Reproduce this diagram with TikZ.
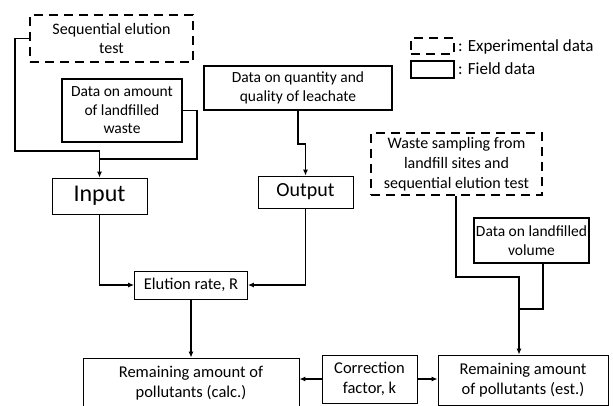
\documentclass[tikz,border=0pt]{standalone}
\usepackage{fontspec}
\setmainfont{Carlito}
\usetikzlibrary{arrows.meta}
\begin{document}
\begin{tikzpicture}[x=1pt,y=-1pt,
  every node/.style={inner sep=0pt,align=center},
  expbox/.style={draw,line width=1.9pt,dash pattern=on 9pt off 6pt,
    font=\fontsize{16pt}{20pt}\selectfont},
  fieldbox/.style={draw,line width=1.9pt,font=\fontsize{15.5pt}{18.5pt}\selectfont},
  procbox/.style={draw,line width=0.8pt,font=\fontsize{16.5pt}{20pt}\selectfont},
  link/.style={line width=1.7pt},
  flow/.style={line width=1.7pt,-{Latex[length=6pt,width=5pt]}},
  legtext/.style={anchor=west,font=\fontsize{17pt}{20pt}\selectfont}]
\clip (0,0) rectangle (613,405);
\useasboundingbox (0,0) rectangle (613,405);

% data sources
\node[expbox,minimum width=163pt,minimum height=47pt] (seq) at (111.5,38.5)
  {Sequential elution\\test};
\node[fieldbox,minimum width=120pt,minimum height=63pt] (amount) at (122,110.5)
  {Data on amount\\of landfilled\\waste};
\node[fieldbox,minimum width=188pt,minimum height=44pt] (leach) at (298,88)
  {Data on quantity and\\quality of leachate};
\node[expbox,minimum width=171pt,minimum height=62pt] (waste) at (456.5,164)
  {Waste sampling from\\landfill sites and\\sequential elution test};
\node[fieldbox,minimum width=115pt,minimum height=45pt] (vol) at (531.5,240.5)
  {Data on landfilled\\volume};

% legend
\node[expbox,minimum width=43pt,minimum height=16pt] (legexp) at (432.5,46) {};
\node[fieldbox,minimum width=43pt,minimum height=17pt] (legfield) at (432.5,69.5) {};
\node[legtext] (legexptext) at (458,47) {: Experimental data};
\node[legtext] (legfieldtext) at (458,69) {: Field data};

% processing steps
\node[procbox,minimum width=95pt,minimum height=36pt,font=\fontsize{24pt}{28pt}\selectfont]
  (input) at (99.5,196) {Input};
\node[procbox,minimum width=95pt,minimum height=32pt,font=\fontsize{20pt}{24pt}\selectfont]
  (output) at (305.5,192) {Output};
\node[procbox,minimum width=113pt,minimum height=28pt] (elution) at (191,285)
  {Elution rate, R};
\node[procbox,minimum width=216pt,minimum height=50pt] (calc) at (191,383)
  {Remaining amount of\\pollutants (calc.)};
\node[procbox,minimum width=95pt,minimum height=48pt] (corr) at (369.5,379)
  {Correction\\factor, k};
\node[procbox,minimum width=170pt,minimum height=50pt] (est) at (523,380)
  {Remaining amount\\of pollutants (est.)};

% junction points
\coordinate (seqturn) at (15,151);
\coordinate (injoin) at (99.5,151);
\coordinate (amtturn) at (197,159);
\coordinate (wasteturn) at (519,277);
\coordinate (volout) at (543,262.5);
\coordinate (voljoin) at (519,309);

% connectors
\draw[flow] (seq.west) -| (seqturn) -- (injoin) -- (input.north);
\draw[link] (amount.east) -| (amtturn) -- (input.north |- amtturn);
\draw[flow] (leach.south) -- ++(0,33) -| (output.north);
\draw[flow] (input.south) |- (elution.west);
\draw[flow] (output.south) |- (elution.east);
\draw[flow] (elution.south) -- (calc.north);
\draw[flow] (corr.west) -- (calc.east |- corr.west);
\draw[flow] (corr.east) -- (est.west |- corr.east);
\draw[flow] (waste.south -| 456,0) |- (wasteturn) -- (wasteturn |- est.north);
\draw[link] (volout) |- (voljoin);
\end{tikzpicture}
\end{document}
